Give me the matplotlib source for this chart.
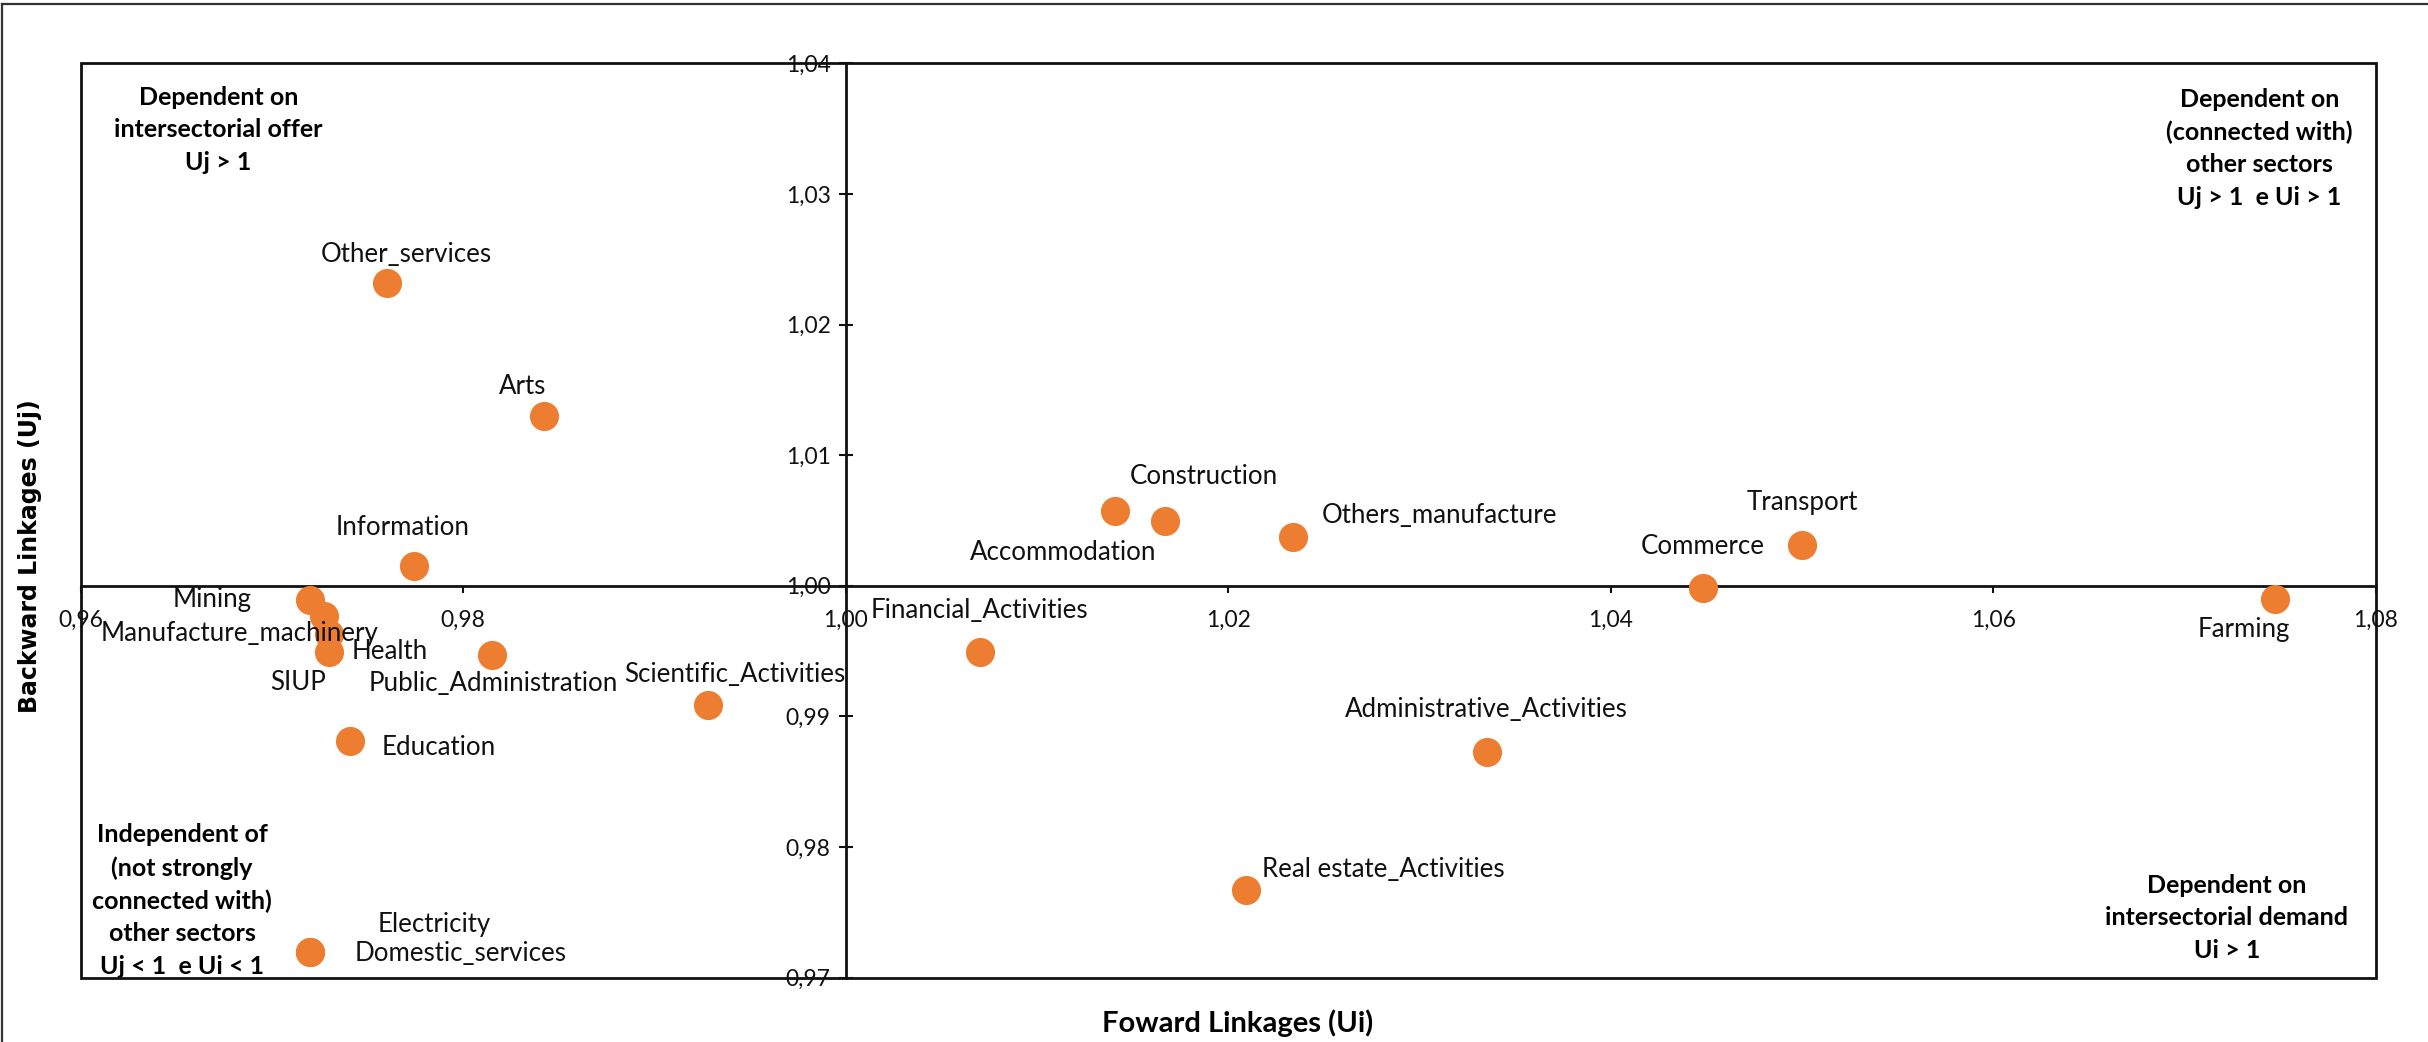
import matplotlib
matplotlib.use("Agg")
import matplotlib.pyplot as plt
from matplotlib.patches import Rectangle
from matplotlib.lines import Line2D
from matplotlib.ticker import FixedLocator, FuncFormatter

# Sectors and their linkage indices
sectors = [
    "Other_services", "Arts", "Information", "Mining", "Manufacture_machinery",
    "Health", "SIUP", "Public_Administration", "Scientific_Activities", "Education",
    "Electricity", "Domestic_services", "Financial_Activities", "Accommodation",
    "Construction", "Others_manufacture", "Administrative_Activities",
    "Real estate_Activities", "Commerce", "Transport", "Farming",
]
forward_ui = [
    0.9760, 0.9842, 0.9774, 0.9720, 0.9727,
    0.9730, 0.9730, 0.9815, 0.9928, 0.9741,
    0.9720, 0.9720, 1.0070, 1.0141,
    1.0167, 1.0234, 1.0335,
    1.0209, 1.0448, 1.0500, 1.0747,
]
backward_uj = [
    1.0232, 1.0130, 1.0015, 0.9989, 0.9977,
    0.9963, 0.9949, 0.9947, 0.9909, 0.9881,
    0.9720, 0.9720, 0.9949, 1.0057,
    1.0050, 1.0037, 0.9873,
    0.9767, 0.9998, 1.0031, 0.9990,
]
x_ticks = [0.96, 0.98, 1.00, 1.02, 1.04, 1.06, 1.08]
y_ticks = [0.97, 0.98, 0.99, 1.00, 1.01, 1.02, 1.03, 1.04]

# Label placement (pixel offsets from each point)
label_offsets = {
    "Other_services": (20, 28), "Arts": (-21, 30), "Information": (-11, 39),
    "Mining": (-98, 1), "Manufacture_machinery": (-84, -18), "Health": (60, -17),
    "SIUP": (-31, -30), "Public_Administration": (1, -28),
    "Scientific_Activities": (27, 30), "Education": (88, -6),
    "Electricity": (124, 27), "Domestic_services": (150, -2),
    "Financial_Activities": (0, 42), "Accommodation": (-52, -41),
    "Construction": (39, 44), "Others_manufacture": (146, 22),
    "Administrative_Activities": (0, 42), "Real estate_Activities": (138, 21),
    "Commerce": (0, 42), "Transport": (0, 43), "Farming": (-31, -31),
}

FONT = ["Lato", "DejaVu Sans"]
plt.rcParams["font.family"] = FONT
ORANGE = "#ED7D31"

fig = plt.figure(figsize=(24.28, 10.42), dpi=100)
ax = fig.add_axes([0.03324, 0.0617, 0.94534, 0.87755])

ax.scatter(forward_ui, backward_uj, s=440, color=ORANGE, zorder=3, linewidths=0)

for name, xv, yv in zip(sectors, forward_ui, backward_uj):
    dx, dy = label_offsets[name]
    ax.annotate(name, (xv, yv), xytext=(dx, dy), textcoords="offset pixels",
                ha="center", va="center", fontsize=18.6, color="#111111", zorder=4)

ax.set_xlim(0.96, 1.08)
ax.set_ylim(0.97, 1.04)

# Axes crossing at (1, 1)
for side in ("top", "right"):
    ax.spines[side].set_visible(False)
ax.spines["left"].set_position(("data", 1.0))
ax.spines["bottom"].set_position(("data", 1.0))
for side in ("left", "bottom"):
    ax.spines[side].set_linewidth(2.0)
    ax.spines[side].set_color("#111111")

# Outer frame of the plot area
ax.add_patch(Rectangle((0, 0), 1, 1, transform=ax.transAxes, fill=False,
                       lw=2.0, edgecolor="#111111", clip_on=False, zorder=5))

fmt = FuncFormatter(lambda v, pos: f"{v:.2f}".replace(".", ","))
ax.xaxis.set_major_locator(FixedLocator(x_ticks))
ax.yaxis.set_major_locator(FixedLocator(y_ticks))
ax.xaxis.set_major_formatter(fmt)
ax.yaxis.set_major_formatter(fmt)
ax.tick_params(axis="x", direction="out", length=5, width=1.5, pad=12,
               labelsize=16.5, colors="#111111")
ax.tick_params(axis="y", direction="inout", length=10, width=1.5, pad=6,
               labelsize=16.5, colors="#111111")

# Quadrant descriptions
qkw = dict(fontsize=18, fontweight="bold", ha="center", va="center",
           linespacing=1.5, color="#000000", transform=ax.transData)
ax.text(0.9672, 1.0349, "Dependent on\nintersectorial offer\nUj > 1", **qkw)
ax.text(1.0739, 1.0335, "Dependent on\n(connected with)\nother sectors\nUj > 1  e Ui > 1", **qkw)
ax.text(1.0722, 0.9746, "Dependent on\nintersectorial demand\nUi > 1", **qkw)
ax.text(0.9653, 0.9759, "Independent of\n(not strongly\nconnected with)\nother sectors\nUj < 1  e Ui < 1", **qkw)

# Axis titles
fig.text(1238 / 2428, 1 - 1023 / 1042, "Foward Linkages (Ui)", ha="center",
         va="center", fontsize=21, fontweight="bold")
fig.text(30 / 2428, 1 - 556 / 1042, "Backward Linkages (Uj)", ha="center",
         va="center", rotation=90, fontsize=17, fontweight="bold",
         family=["DejaVu Sans"])

# Figure border (top and left edges)
fig.add_artist(Line2D([0.0008, 1], [1 - 4 / 1042, 1 - 4 / 1042],
                      transform=fig.transFigure, color="#333333", lw=1.6))
fig.add_artist(Line2D([0.0008, 0.0008], [0, 1 - 4 / 1042],
                      transform=fig.transFigure, color="#333333", lw=1.6))

fig.savefig("out.png", dpi=100, facecolor="white")
